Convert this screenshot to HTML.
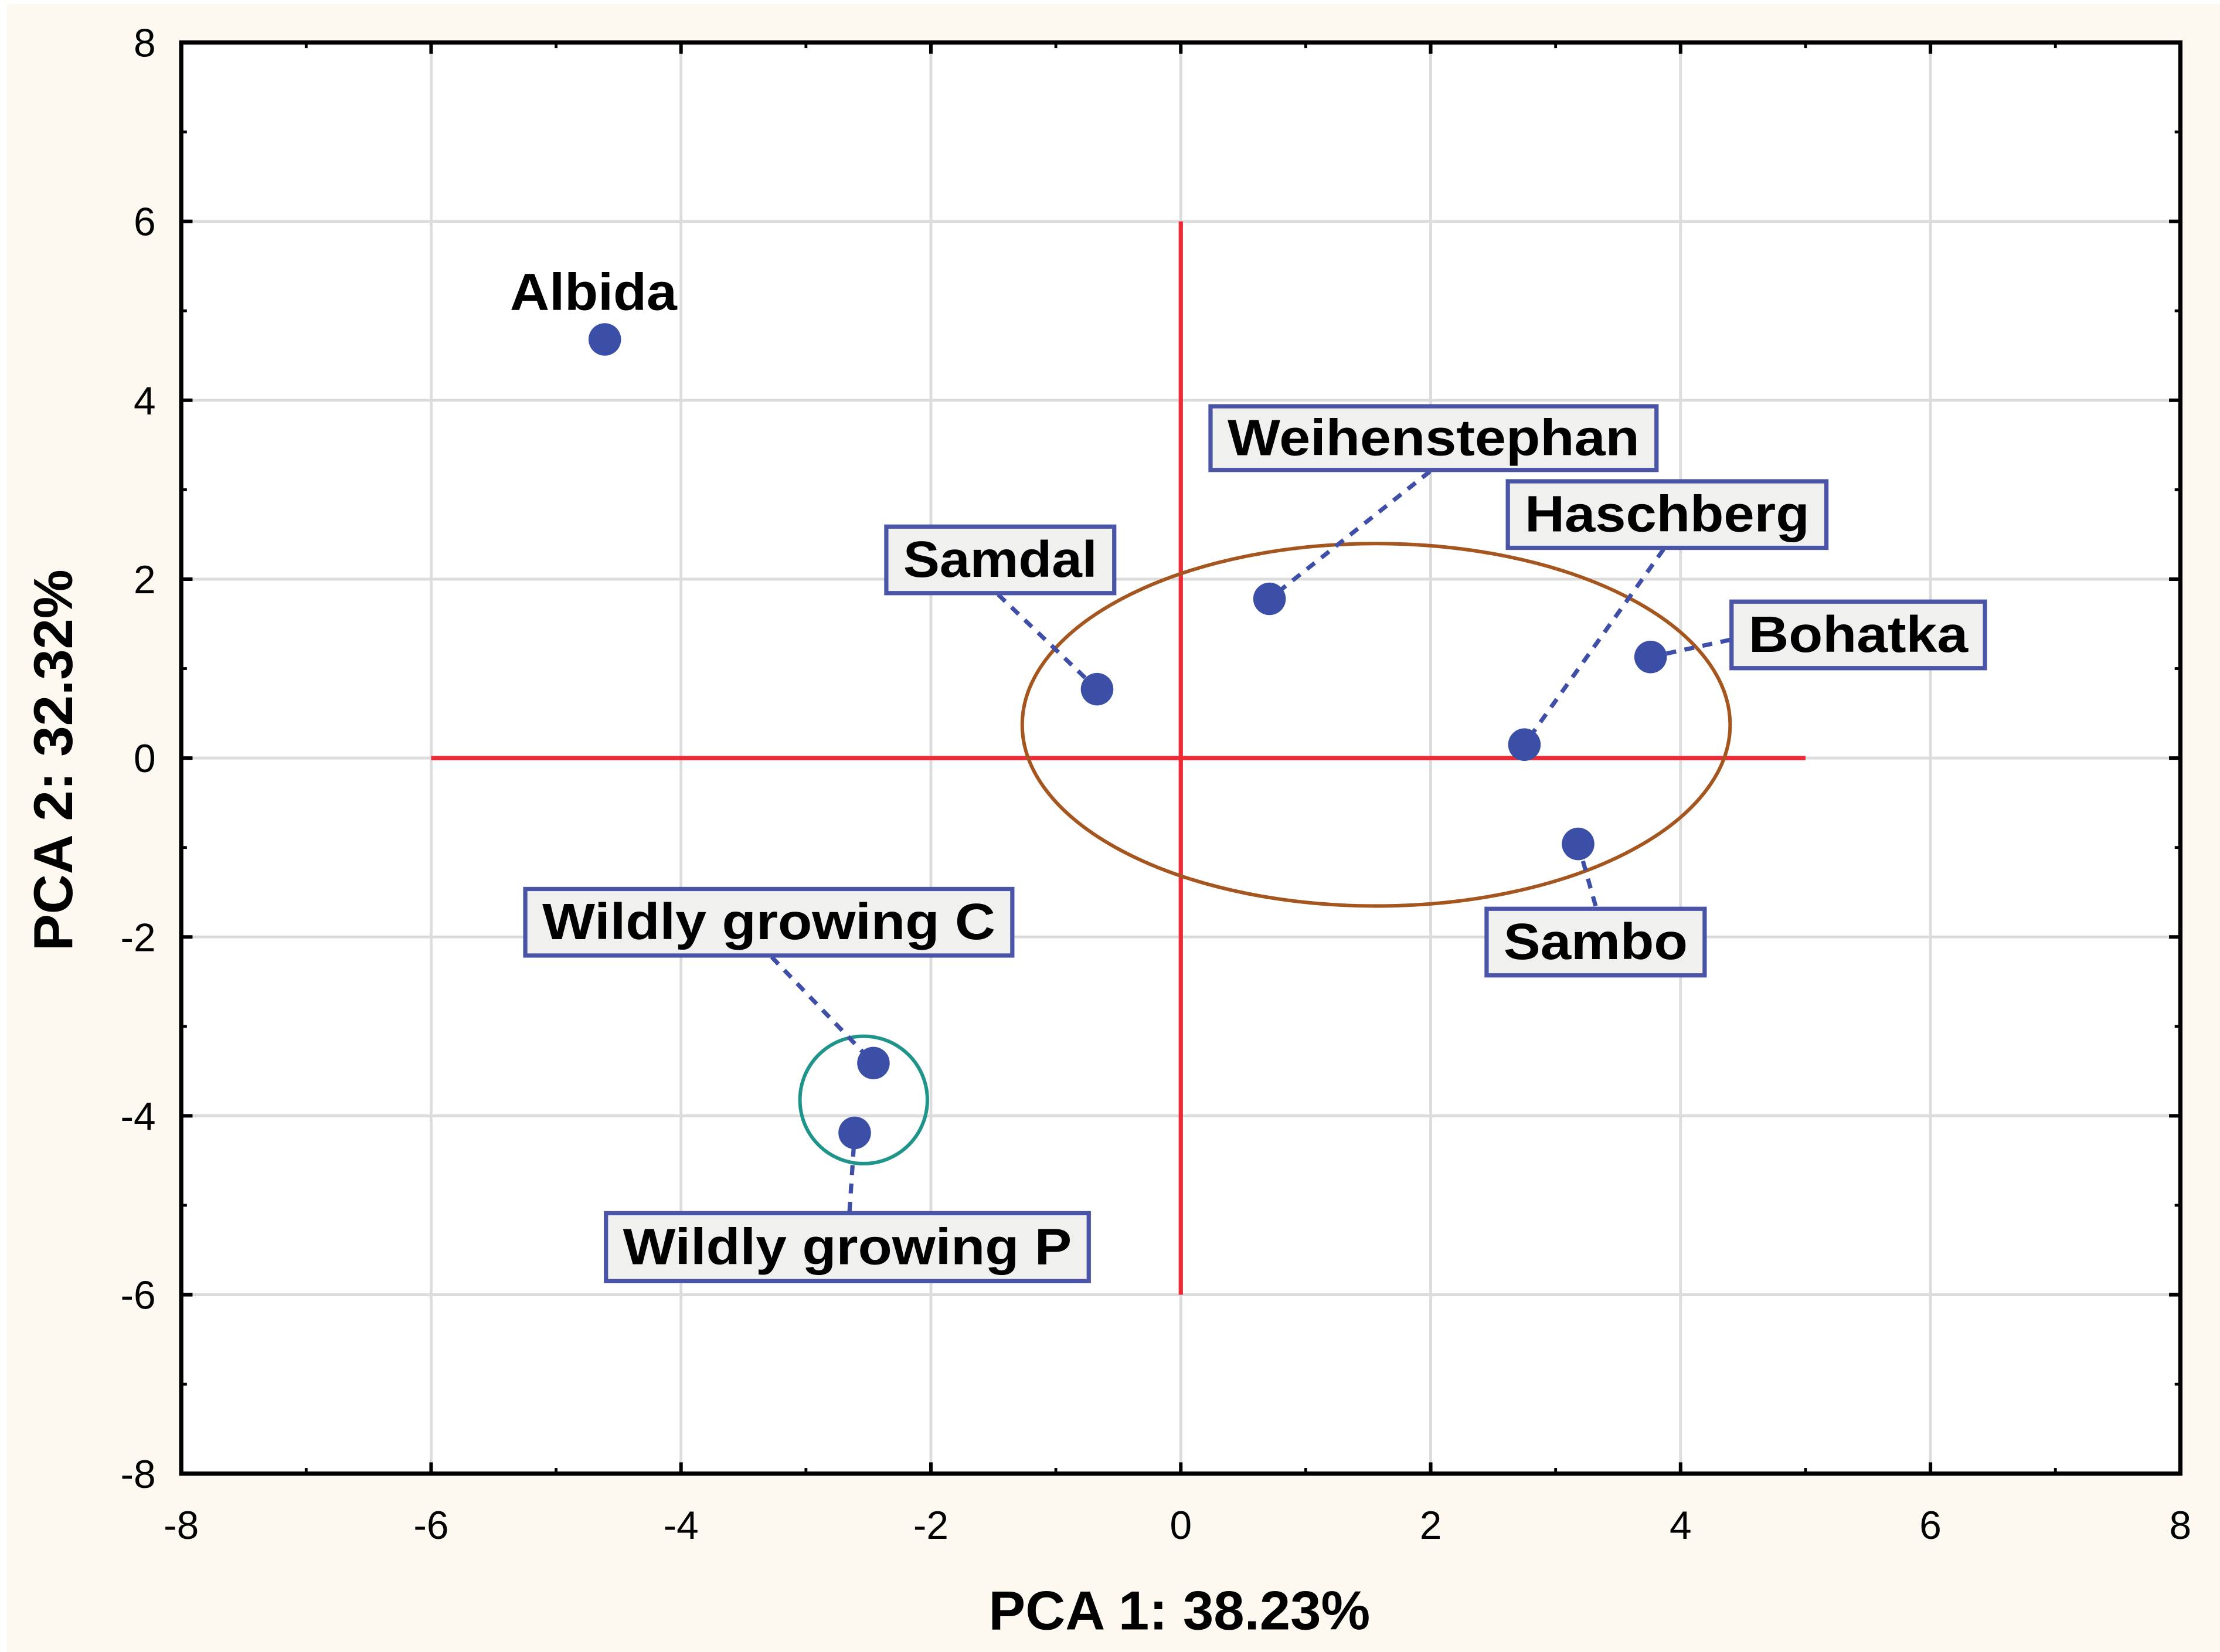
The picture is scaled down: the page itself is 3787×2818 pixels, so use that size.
<!DOCTYPE html>
<html><head><meta charset="utf-8"><style>
html,body{margin:0;padding:0;background:#fff;}
svg{display:block;}
text{font-family:"Liberation Sans",Arial,sans-serif;}
</style></head><body>
<svg id="chart" width="3787" height="2818" viewBox="0 0 1568 1167" preserveAspectRatio="none" xmlns="http://www.w3.org/2000/svg">
<rect x="0" y="0" width="1568" height="1167" fill="#ffffff"/>
<rect x="5" y="3" width="1563" height="1164" fill="#fdf9f1"/>
<rect x="128" y="30" width="1412" height="1011" fill="#ffffff"/>
<g id="grid"></g>
<g id="refs"></g>
<g id="leaders"></g>
<g id="points"></g>
<g id="labels"></g>
<g id="axes"></g>
<text x="833" y="1151" text-anchor="middle" font-size="39" font-weight="bold" fill="#000">PCA 1: 38.23%</text>
<text transform="translate(51,537) rotate(-90)" text-anchor="middle" font-size="39" font-weight="bold" fill="#000">PCA 2: 32.32%</text>
</svg>
<script>
const names = ["Albida","Weihenstephan","Samdal","Haschberg","Bohatka","Sambo","Wildly growing C","Wildly growing P"];
const pc1 = [-4.61, 0.71, -0.67, 2.75, 3.76, 3.18, -2.46, -2.61];
const pc2 = [4.68, 1.78, 0.77, 0.15, 1.13, -0.96, -3.41, -4.19];
const xTicks = [-8,-6,-4,-2,0,2,4,6,8];
const yTicks = [-8,-6,-4,-2,0,2,4,6,8];

const NS="http://www.w3.org/2000/svg";
const L=128,R=1540,T=30,B=1041;
const sx=v=>L+(v+8)/16*(R-L);
const sy=v=>B-(v+8)/16*(B-T);
function mk(tag,attrs,parent,txt){const e=document.createElementNS(NS,tag);for(const k in attrs)e.setAttribute(k,attrs[k]);if(txt!==undefined)e.textContent=txt;parent.appendChild(e);return e;}
const grid=document.getElementById('grid'),axes=document.getElementById('axes'),refs=document.getElementById('refs');
const leaders=document.getElementById('leaders'),points=document.getElementById('points'),labels=document.getElementById('labels');

xTicks.forEach(t=>{
  if(t>-8&&t<8){const g=mk('line',{x1:sx(t),x2:sx(t),y1:T,y2:B,stroke:'#dcdcdc','stroke-width':2},grid);
  
  }
  const tl=mk('text',{x:sx(t),y:1087,'text-anchor':'middle','font-size':28,fill:'#000'},axes,String(t));
  
  
  mk('line',{x1:sx(t),x2:sx(t),y1:B,y2:B-8,stroke:'#000','stroke-width':2.5},axes);
  mk('line',{x1:sx(t),x2:sx(t),y1:T,y2:T+8,stroke:'#000','stroke-width':2.5},axes);
  if(t<8){mk('line',{x1:sx(t+1),x2:sx(t+1),y1:B,y2:B-4,stroke:'#000','stroke-width':2},axes);
  mk('line',{x1:sx(t+1),x2:sx(t+1),y1:T,y2:T+4,stroke:'#000','stroke-width':2},axes);}
});
yTicks.forEach(t=>{
  if(t>-8&&t<8){const g=mk('line',{x1:L,x2:R,y1:sy(t),y2:sy(t),stroke:'#dcdcdc','stroke-width':2},grid);
  
  }
  const tl=mk('text',{x:110,y:sy(t)+10,'text-anchor':'end','font-size':28,fill:'#000'},axes,String(t));
  
  
  mk('line',{x1:L,x2:L+8,y1:sy(t),y2:sy(t),stroke:'#000','stroke-width':2.5},axes);
  mk('line',{x1:R,x2:R-8,y1:sy(t),y2:sy(t),stroke:'#000','stroke-width':2.5},axes);
  if(t<8){mk('line',{x1:L,x2:L+4,y1:sy(t+1),y2:sy(t+1),stroke:'#000','stroke-width':2},axes);
  mk('line',{x1:R,x2:R-4,y1:sy(t+1),y2:sy(t+1),stroke:'#000','stroke-width':2},axes);}
});
const frame=mk('rect',{x:L,y:T,width:R-L,height:B-T,fill:'none',stroke:'#000','stroke-width':3},axes);



const h=mk('line',{x1:sx(-6),x2:sx(5),y1:sy(0),y2:sy(0),stroke:'#ee2a35','stroke-width':3},refs);


const v=mk('line',{x1:sx(0),x2:sx(0),y1:sy(6),y2:sy(-6),stroke:'#ee2a35','stroke-width':3},refs);


const el=mk('ellipse',{cx:972,cy:512,rx:250,ry:128,fill:'none',stroke:'#a5561f','stroke-width':2.5},refs);


const ci=mk('ellipse',{cx:610,cy:777,rx:45,ry:45,fill:'none',stroke:'#1f948a','stroke-width':2.5},refs);



// label box layout (pixels): [boxX, boxY, boxW, boxH, anchorX, anchorY]
const boxes=[null,[855,287,315,45,1010,333],[626,372,161,47,705,420],[1065,340,225,47,1175,388],[1223,425,179,47,1222,452],[1050,642,154,47,1127,640],[371,628,344,47,545,676],[428,857,341,48,600,856]];
names.forEach((n,i)=>{
  const px=sx(pc1[i]),py=sy(pc2[i]);
  const slug=n.toLowerCase().replace(/ /g,'-');
  const b=boxes[i];
  if(b){
    const ln=mk('line',{x1:b[4],y1:b[5],x2:px,y2:py,stroke:'#3f4fa8','stroke-width':3,'stroke-dasharray':'7,6'},leaders);
    
    
    const r=mk('rect',{x:b[0],y:b[1],width:b[2],height:b[3],fill:'#f0f0ee',stroke:'#4a55a8','stroke-width':3},labels);
    
    
    const t=mk('text',{x:b[0]+b[2]/2,y:b[1]+b[3]/2+12,'text-anchor':'middle','font-size':36,'font-weight':'bold',fill:'#000',textLength:b[2]-24,lengthAdjust:'spacingAndGlyphs'},labels,n);
    
    
  } else {
    const t=mk('text',{x:px-8,y:py-21,'text-anchor':'middle','font-size':37,'font-weight':'bold',fill:'#000',textLength:118,lengthAdjust:'spacingAndGlyphs'},labels,n);
    
    
  }
  const c=mk('circle',{cx:px,cy:py,r:11.5,fill:'#3b4fa6'},points);
  
  
});
</script>
</body></html>
